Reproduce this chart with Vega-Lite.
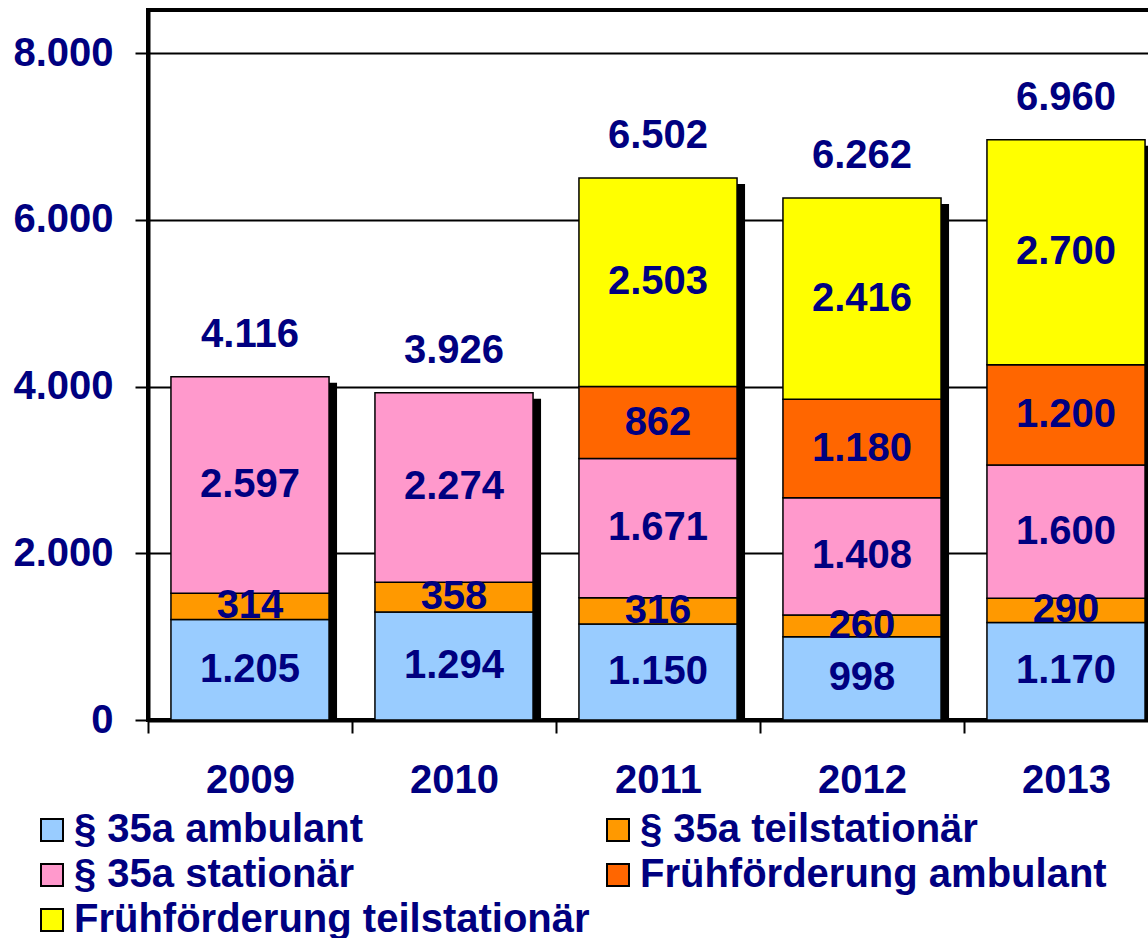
{
  "$schema": "https://vega.github.io/schema/vega-lite/v6.json",
  "width": 1020,
  "height": 710,
  "autosize": "none",
  "padding": {"left": 148, "top": 10, "right": 0, "bottom": 218},
  "background": "white",
  "data": {
    "values": [
      {"year": "2009", "category": "§ 35a ambulant", "value": 1205},
      {"year": "2009", "category": "§ 35a teilstationär", "value": 314},
      {"year": "2009", "category": "§ 35a stationär", "value": 2597},
      {"year": "2010", "category": "§ 35a ambulant", "value": 1294},
      {"year": "2010", "category": "§ 35a teilstationär", "value": 358},
      {"year": "2010", "category": "§ 35a stationär", "value": 2274},
      {"year": "2011", "category": "§ 35a ambulant", "value": 1150},
      {"year": "2011", "category": "§ 35a teilstationär", "value": 316},
      {"year": "2011", "category": "§ 35a stationär", "value": 1671},
      {"year": "2011", "category": "Frühförderung ambulant", "value": 862},
      {"year": "2011", "category": "Frühförderung teilstationär", "value": 2503},
      {"year": "2012", "category": "§ 35a ambulant", "value": 998},
      {"year": "2012", "category": "§ 35a teilstationär", "value": 260},
      {"year": "2012", "category": "§ 35a stationär", "value": 1408},
      {"year": "2012", "category": "Frühförderung ambulant", "value": 1180},
      {"year": "2012", "category": "Frühförderung teilstationär", "value": 2416},
      {"year": "2013", "category": "§ 35a ambulant", "value": 1170},
      {"year": "2013", "category": "§ 35a teilstationär", "value": 290},
      {"year": "2013", "category": "§ 35a stationär", "value": 1600},
      {"year": "2013", "category": "Frühförderung ambulant", "value": 1200},
      {"year": "2013", "category": "Frühförderung teilstationär", "value": 2700}
    ]
  },
  "layer": [
    {
      "transform": [
        {"aggregate": [{"op": "sum", "field": "value", "as": "total"}], "groupby": ["year"]}
      ],
      "mark": {"type": "bar", "color": "black", "xOffset": 8, "yOffset": 6, "clip": true},
      "encoding": {
        "x": {"field": "year", "type": "ordinal", "scale": {"paddingInner": 0.225, "paddingOuter": 0.1125}, "axis": {"tickOffset": -102, "labelOffset": 102}},
        "y": {"field": "total", "type": "quantitative", "scale": {"domain": [0, 8516], "nice": false}, "axis": {"values": [0, 2000, 4000, 6000, 8000], "format": ",d"}}
      }
    },
    {
      "transform": [
        {"calculate": "indexof(['§ 35a ambulant','§ 35a teilstationär','§ 35a stationär','Frühförderung ambulant','Frühförderung teilstationär'], datum.category)", "as": "k"},
        {"stack": "value", "groupby": ["year"], "sort": [{"field": "k", "order": "ascending"}], "as": ["y0", "y1"]},
        {"calculate": "(datum.y0 + datum.y1) / 2", "as": "mid"}
      ],
      "layer": [
        {
          "mark": {"type": "bar", "stroke": "black", "strokeWidth": 1.5},
          "encoding": {
            "x": {"field": "year", "type": "ordinal", "axis": {"tickOffset": -102, "labelOffset": 102}},
            "y": {"field": "y1", "type": "quantitative", "scale": {"domain": [0, 8516], "nice": false}, "axis": {"values": [0, 2000, 4000, 6000, 8000], "format": ",d"}},
            "y2": {"field": "y0"},
            "color": {
              "field": "category",
              "type": "nominal",
              "scale": {
                "domain": ["§ 35a ambulant", "§ 35a stationär", "Frühförderung teilstationär", "§ 35a teilstationär", "Frühförderung ambulant"],
                "range": ["#99CCFF", "#FF99CC", "#FFFF00", "#FF9900", "#FF6600"]
              },
              "legend": {
                "orient": "none",
                "legendX": -116,
                "legendY": 800,
                "columns": 2,
                "title": null
              }
            }
          }
        },
        {
          "mark": {"type": "text", "font": "Liberation Sans", "fontSize": 40, "fontWeight": "bold", "color": "#000080", "baseline": "middle", "align": "center"},
          "encoding": {
            "x": {"field": "year", "type": "ordinal"},
            "y": {"field": "mid", "type": "quantitative", "scale": {"domain": [0, 8516], "nice": false}},
            "text": {"field": "value", "type": "quantitative", "format": ",d"}
          }
        }
      ]
    },
    {
      "transform": [
        {"aggregate": [{"op": "sum", "field": "value", "as": "total"}], "groupby": ["year"]}
      ],
      "mark": {"type": "text", "font": "Liberation Sans", "fontSize": 40, "fontWeight": "bold", "color": "#000080", "baseline": "middle", "align": "center", "dy": -42},
      "encoding": {
        "x": {"field": "year", "type": "ordinal"},
        "y": {"field": "total", "type": "quantitative", "scale": {"domain": [0, 8516], "nice": false}},
        "text": {"field": "total", "type": "quantitative", "format": ",d"}
      }
    }
  ],
  "config": {
    "locale": {"number": {"decimal": ",", "thousands": ".", "grouping": [3], "currency": ["", " €"]}},
    "view": {"stroke": "black", "strokeWidth": 4},
    "font": "Liberation Sans",
    "axis": {
      "title": null,
      "labelFont": "Liberation Sans",
      "labelFontSize": 40,
      "labelFontWeight": "bold",
      "labelColor": "#000080",
      "domainColor": "black",
      "domainWidth": 4,
      "tickColor": "black",
      "tickWidth": 2,
      "tickSize": 13
    },
    "axisX": {
      "labelAngle": 0,
      "labelBaseline": "middle",
      "labelPadding": 47,
      "grid": false,
      "zindex": 1
    },
    "axisY": {
      "grid": true,
      "gridColor": "black",
      "gridWidth": 2,
      "gridOpacity": 1,
      "labelPadding": 22,
      "labelBaseline": "middle"
    },
    "legend": {
      "padding": 0,
      "symbolType": "square",
      "symbolSize": 484,
      "symbolStrokeColor": "black",
      "symbolStrokeWidth": 2,
      "symbolOpacity": 1,
      "labelFont": "Liberation Sans",
      "labelFontSize": 40,
      "labelFontWeight": "bold",
      "labelColor": "#000080",
      "labelLimit": 900,
      "labelOffset": 2,
      "columnPadding": 8,
      "rowPadding": 5
    }
  }
}
